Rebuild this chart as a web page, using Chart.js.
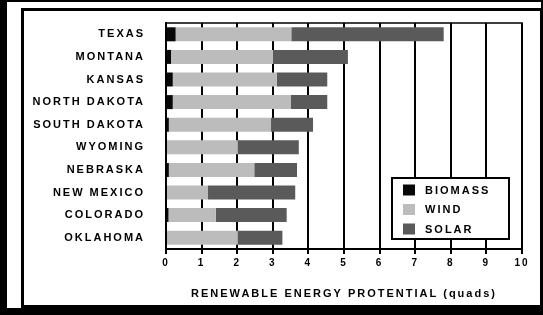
<!DOCTYPE html>
<html><head><meta charset="utf-8">
<script src="https://cdn.jsdelivr.net/npm/chart.js@4.4.1/dist/chart.umd.min.js"></script>
<style>
html,body{margin:0;padding:0;background:#000;width:543px;height:315px;overflow:hidden;}
#panel{position:absolute;left:7px;top:2px;width:534px;height:306px;background:#fff;}
#frame{position:absolute;left:21px;top:8px;width:522px;height:300px;border:3px solid #000;box-sizing:border-box;background:#fff;}
#c{position:absolute;left:0;top:0;}
</style></head><body>
<div id="panel"></div>
<div id="frame"><canvas id="c" width="516" height="294"></canvas></div>
<script>
const states = ['TEXAS','MONTANA','KANSAS','NORTH DAKOTA','SOUTH DAKOTA','WYOMING','NEBRASKA','NEW MEXICO','COLORADO','OKLAHOMA'];
const biomass = [0.27, 0.14, 0.19, 0.19, 0.08, 0.0, 0.08, 0.0, 0.07, 0.0];
const wind    = [3.25, 2.87, 2.92, 3.32, 2.87, 2.02, 2.40, 1.18, 1.33, 2.02];
const solar   = [4.28, 2.10, 1.42, 1.02, 1.18, 1.71, 1.20, 2.45, 1.99, 1.25];
const xTicks = ['0','1','2','3','4','5','6','7','8','9','10'];
const seriesNames = ['BIOMASS','WIND','SOLAR'];
const seriesColors = ['#080808','#bcbcbc','#5a5a5a'];
const axisTitle = 'RENEWABLE ENERGY PROTENTIAL (quads)';

Chart.defaults.font.family = "'Liberation Sans', Arial, Helvetica, sans-serif";
Chart.defaults.font.weight = 'bold';
Chart.defaults.font.size = 11;
Chart.defaults.color = '#000';

const LS = '2px';
const spacingPlugin = {
  id: 'spacing',
  beforeUpdate(c){ c.ctx.letterSpacing = LS; },
  beforeDraw(c){ c.ctx.letterSpacing = LS; }
};

const boxPlugin = {
  id: 'box',
  afterDatasetsDraw(c){
    const {ctx, chartArea:a} = c;
    ctx.save();
    ctx.strokeStyle = '#000';
    ctx.lineWidth = 1.5;
    ctx.beginPath();
    ctx.moveTo(a.left, a.top);
    ctx.lineTo(a.right, a.top);
    ctx.lineTo(a.right, a.bottom);
    ctx.stroke();
    ctx.restore();
  }
};

const legendPlugin = {
  id: 'legendBox',
  afterDraw(c){
    const {ctx, chartArea:a} = c;
    const w = 117, h = 61;
    const x = a.right - 13 - w, y = a.bottom - 10 - h;
    ctx.save();
    ctx.letterSpacing = LS;
    ctx.fillStyle = '#fff';
    ctx.fillRect(x, y, w, h);
    ctx.strokeStyle = '#000';
    ctx.lineWidth = 2;
    ctx.strokeRect(x, y, w, h);
    ctx.font = "bold 11px 'Liberation Sans', Arial, sans-serif";
    ctx.textBaseline = 'middle';
    ctx.textAlign = 'left';
    seriesNames.forEach((n, i) => {
      const cy = y + 12 + i * 19.5;
      ctx.fillStyle = seriesColors[i];
      ctx.fillRect(x + 11, cy - 5.5, 12, 11);
      ctx.fillStyle = '#000';
      ctx.fillText(n, x + 33, cy + 0.5);
    });
    ctx.restore();
  }
};

const series = [biomass, wind, solar];
new Chart(document.getElementById('c'), {
  type: 'bar',
  data: {
    labels: states,
    datasets: series.map((d, i) => ({
      label: seriesNames[i],
      data: d,
      backgroundColor: seriesColors[i],
      borderWidth: 0,
      categoryPercentage: 1,
      barPercentage: 0.62
    }))
  },
  options: {
    indexAxis: 'y',
    responsive: false,
    animation: false,
    devicePixelRatio: 1,
    layout: { padding: { top: 12, right: 18, left: 0, bottom: 0 } },
    plugins: { legend: { display: false }, tooltip: { enabled: false } },
    scales: {
      x: {
        stacked: true, min: 0, max: 10,
        afterFit(s){ s.height = 56; },
        grid: { color: '#000', lineWidth: 2, drawTicks: true, tickLength: 5, tickColor: '#000' },
        border: { display: true, color: '#000', width: 2 },
        ticks: { stepSize: 1, color: '#000', padding: 3, maxRotation: 0, autoSkip: false,
                 font: { size: 10, weight: 'bold' }, callback: (v) => xTicks[v] },
        title: { display: true, text: axisTitle, color: '#000',
                 font: { size: 11, weight: 'bold' }, padding: { top: 0, bottom: 4 } }
      },
      y: {
        stacked: true,
        afterFit(s){ s.width = 142; },
        grid: { display: true, drawOnChartArea: false, drawTicks: true, tickLength: 21, tickColor: 'rgba(0,0,0,0)' },
        border: { display: true, color: '#000', width: 2 },
        ticks: { color: '#000', padding: 0, font: { size: 11, weight: 'bold' } }
      }
    }
  },
  plugins: [spacingPlugin, boxPlugin, legendPlugin]
});
</script>
</body></html>
